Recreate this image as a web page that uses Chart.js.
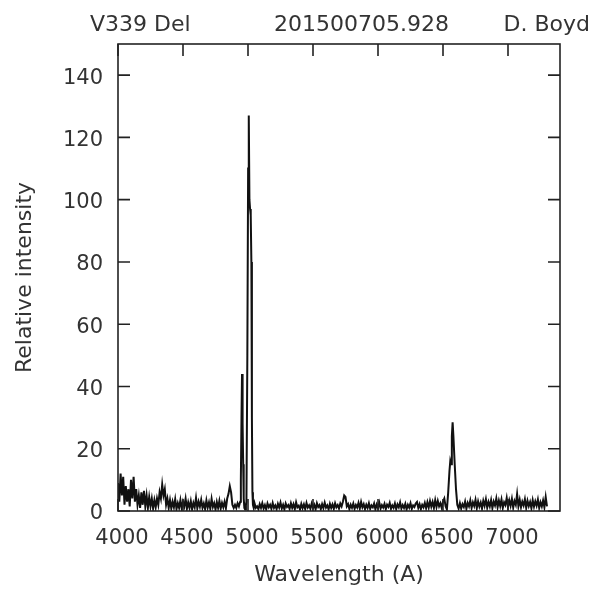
<!DOCTYPE html>
<html>
<head>
<meta charset="utf-8">
<script src="https://cdn.jsdelivr.net/npm/chart.js@4.4.1/dist/chart.umd.min.js"></script>
<style>
  html, body { margin: 0; padding: 0; background: #fff; }
  canvas { display: block; }
</style>
</head>
<body>
<canvas id="spectrum" width="608" height="592"></canvas>
<script>
// header line above the plot
var header = ['V339 Del', '201500705.928', 'D. Boyd'];
var xTicks = [4000, 4500, 5000, 5500, 6000, 6500, 7000];
var yTicks = [0, 20, 40, 60, 80, 100, 120, 140];

// blue continuum, 4000-4890 A
var blueWl = [
	4000, 4010, 4020, 4030, 4040, 4050, 4060, 4070, 4080, 4090,
	4100, 4110, 4120, 4130, 4140, 4150, 4160, 4170, 4180, 4190,
	4200, 4210, 4220, 4230, 4240, 4250, 4260, 4270, 4280, 4290,
	4300, 4310, 4320, 4330, 4340, 4350, 4360, 4370, 4380, 4390,
	4400, 4410, 4420, 4430, 4440, 4450, 4460, 4470, 4480, 4490,
	4500, 4510, 4520, 4530, 4540, 4550, 4560, 4570, 4580, 4590,
	4600, 4610, 4620, 4630, 4640, 4650, 4660, 4670, 4680, 4690,
	4700, 4710, 4720, 4730, 4740, 4750, 4760, 4770, 4780, 4790,
	4800, 4810, 4820, 4830, 4840, 4850, 4860, 4870, 4880, 4890
];
var blueFlux = [
	9, 3, 12, 5, 11, 2, 8, 3, 7, 1.5,
	10, 4, 11, 3, 7, 2, 5, 1, 6, 2,
	6.5, 1.5, 5, 1, 4.5, 1.5, 4, 0.8, 3.5, 1.2,
	4, 2, 6, 4, 8.5, 5, 7, 2, 4, 1,
	3.5, 0.8, 3, 1.2, 3.8, 0.6, 2.5, 1, 3.5, 0.8,
	3, 1.5, 4, 0.7, 2.8, 1, 3.2, 0.5, 2.6, 1.2,
	4.2, 0.9, 3, 1.4, 3.6, 1, 2.4, 0.6, 3.4, 1.1,
	2.8, 0.7, 3.9, 1.3, 2.5, 0.5, 2.9, 1, 3.3, 0.8,
	2.6, 1.2, 3, 0.9, 4, 5.5, 8, 6, 2, 1
];

// [OIII] 4959 / 5007 region
var oiiiWl = [
	4900, 4910, 4920, 4930, 4940, 4945, 4950, 4954, 4957, 4960,
	4963, 4967, 4972, 4978, 4984, 4988, 4995, 5001, 5006, 5011,
	5016, 5021, 5026, 5030, 5034, 5038, 5044, 5050, 5060
];
var oiiiFlux = [
	2, 1, 2.5, 1.5, 3, 10, 30, 44, 33, 28,
	15, 4, 1, 0.5, 2, 3, 50, 110, 127, 100,
	97, 95, 80, 30, 6, 2, 1, 2.5, 1
];

// continuum 5070-6470 A
var midWl = [
	5070, 5080, 5090,
	5100, 5110, 5120, 5130, 5140, 5150, 5160, 5170, 5180, 5190,
	5200, 5210, 5220, 5230, 5240, 5250, 5260, 5270, 5280, 5290,
	5300, 5310, 5320, 5330, 5340, 5350, 5360, 5370, 5380, 5390,
	5400, 5410, 5420, 5430, 5440, 5450, 5460, 5470, 5480, 5490,
	5500, 5510, 5520, 5530, 5540, 5550, 5560, 5570, 5580, 5590,
	5600, 5610, 5620, 5630, 5640, 5650, 5660, 5670, 5680, 5690,
	5700, 5710, 5720, 5730, 5740, 5750, 5760, 5770, 5780, 5790,
	5800, 5810, 5820, 5830, 5840, 5850, 5860, 5870, 5880, 5890,
	5900, 5910, 5920, 5930, 5940, 5950, 5960, 5970, 5980, 5990,
	6000, 6010, 6020, 6030, 6040, 6050, 6060, 6070, 6080, 6090,
	6100, 6110, 6120, 6130, 6140, 6150, 6160, 6170, 6180, 6190,
	6200, 6210, 6220, 6230, 6240, 6250, 6260, 6270, 6280, 6290,
	6300, 6310, 6320, 6330, 6340, 6350, 6360, 6370, 6380, 6390,
	6400, 6410, 6420, 6430, 6440, 6450, 6460, 6470
];
var midFlux = [
	1.5, 0.6, 2.2,
	1, 2.5, 0.8, 1.9, 0.5, 2.4, 1.2, 2, 0.7, 2.6,
	1, 1.8, 0.6, 2.3, 1.1, 2.7, 0.8, 2, 0.5, 2.4,
	1.3, 1.9, 0.7, 2.5, 1, 2.2, 0.6, 2.8, 1.2, 1.7,
	0.5, 2.3, 0.9, 2.1, 0.6, 2.6, 1.1, 1.8, 0.7, 2.4,
	1, 2, 0.5, 2.5, 1.3, 1.9, 0.6, 2.2, 0.9, 2.7,
	1.1, 1.8, 0.5, 2.3, 1, 2.1, 0.7, 2.5, 1.2, 1.9,
	0.8, 2.4, 1.5, 3, 5, 4.5, 1.5, 2.2, 0.6, 2,
	1, 2.4, 0.7, 1.9, 1.1, 2.6, 0.8, 2.9, 1.2, 2.2,
	0.6, 2, 1, 2.5, 0.7, 1.8, 1.2, 2.4, 0.5, 2.1,
	1, 2.7, 0.8, 1.9, 1.1, 2.3, 0.6, 2, 1.3, 2.6,
	0.7, 1.8, 1, 2.4, 0.6, 2.1, 1.2, 2.8, 0.8, 1.9,
	1, 2.3, 0.5, 2, 1.1, 2.5, 0.7, 1.8, 1.3, 2.4,
	2.9, 1, 2.2, 0.6, 2, 1.2, 2.6, 0.9, 2.8, 1.1,
	3.2, 1.4, 2.9, 1, 3.5, 1.3, 3.2, 1.5
];

// H-alpha region
var haWl = [
	6480, 6490, 6500, 6510, 6520, 6530, 6540, 6550, 6556, 6562,
	6568, 6574, 6580, 6590, 6600, 6610, 6620
];
var haFlux = [
	2.5, 1, 3, 4, 1.5, 0.5, 6, 13, 16, 15,
	24, 28.5, 24, 15, 7, 2, 0.8
];

// red continuum, 6630-7300 A
var redWl = [
	6630, 6640, 6650, 6660, 6670, 6680, 6690,
	6700, 6710, 6720, 6730, 6740, 6750, 6760, 6770, 6780, 6790,
	6800, 6810, 6820, 6830, 6840, 6850, 6860, 6870, 6880, 6890,
	6900, 6910, 6920, 6930, 6940, 6950, 6960, 6970, 6980, 6990,
	7000, 7010, 7020, 7030, 7040, 7050, 7060, 7070, 7080, 7090,
	7100, 7110, 7120, 7130, 7140, 7150, 7160, 7170, 7180, 7190,
	7200, 7210, 7220, 7230, 7240, 7250, 7260, 7270, 7280, 7290,
	7300
];
var redFlux = [
	2.5, 0.8, 2.2, 1.3, 3, 0.7, 2.6,
	1.5, 3.4, 1, 2.8, 1.6, 3.6, 0.9, 3.1, 1.4, 2.7,
	0.8, 3.3, 1.7, 3.8, 1.1, 2.9, 1.5, 3.5, 0.9, 3,
	1.8, 4, 1.2, 3.3, 1.6, 3.7, 1, 2.8, 1.9, 4.2,
	1.3, 3.4, 1.7, 3.9, 1.1, 3.2, 2, 5.5, 1.5, 3.6,
	1.2, 3, 1.8, 3.8, 1, 3.3, 1.6, 2.9, 0.9, 3.5,
	1.4, 3.1, 1.7, 3.7, 1, 2.8, 1.5, 3.4, 1.2, 4.5,
	1.5
];

var wavelength = blueWl.concat(oiiiWl, midWl, haWl, redWl);
var intensity = blueFlux.concat(oiiiFlux, midFlux, haFlux, redFlux);
var points = wavelength.map((w, i) => ({ x: w, y: intensity[i] }));

var ink = '#333';
Chart.defaults.font.family = '"DejaVu Sans", Verdana, sans-serif';
Chart.defaults.color = ink;

// box around the plot with inward ticks on all four sides, plus header
var frame = {
	id: 'frame',
	afterDraw(chart) {
		var ctx = chart.ctx, a = chart.chartArea;
		var x = chart.scales.x, y = chart.scales.y;
		var len = 12;
		ctx.save();
		ctx.strokeStyle = '#222';
		ctx.lineWidth = 1.6;
		ctx.strokeRect(a.left, a.top, a.right - a.left, a.bottom - a.top);
		ctx.beginPath();
		x.ticks.forEach(t => {
			var px = x.getPixelForValue(t.value);
			ctx.moveTo(px, a.bottom); ctx.lineTo(px, a.bottom - len);
			ctx.moveTo(px, a.top); ctx.lineTo(px, a.top + len);
		});
		y.ticks.forEach(t => {
			var py = y.getPixelForValue(t.value);
			ctx.moveTo(a.left, py); ctx.lineTo(a.left + len, py);
			ctx.moveTo(a.right, py); ctx.lineTo(a.right - len, py);
		});
		ctx.stroke();

		ctx.fillStyle = ink;
		ctx.font = '22px "DejaVu Sans", Verdana, sans-serif';
		ctx.textBaseline = 'alphabetic';
		ctx.textAlign = 'left';
		ctx.fillText(header[0], 90, 31);
		ctx.fillText(header[1], 274, 31);
		ctx.textAlign = 'right';
		ctx.fillText(header[2], 590, 31);
		ctx.restore();
	}
};

var chart = new Chart(document.getElementById('spectrum'), {
	type: 'line',
	data: {
		datasets: [{
			data: points,
			borderColor: '#111',
			borderWidth: 2,
			pointRadius: 0,
			tension: 0,
			fill: false
		}]
	},
	options: {
		responsive: false,
		animation: false,
		devicePixelRatio: 1,
		layout: { padding: { top: 44, right: 48, bottom: 0, left: 0 } },
		plugins: { legend: { display: false }, tooltip: { enabled: false } },
		scales: {
			x: {
				type: 'linear',
				min: 4000,
				max: 7400,
				grid: { display: false, drawTicks: false },
				border: { display: false },
				afterBuildTicks(scale) { scale.ticks = xTicks.map(v => ({ value: v })); },
				ticks: { font: { size: 21 }, padding: 15, labelOffset: 4, maxRotation: 0, autoSkip: false, callback: v => String(v) },
				title: { display: true, text: 'Wavelength (A)', font: { size: 22 }, padding: { top: 0, bottom: 4 } },
				afterFit(scale) { scale.height = 81; }
			},
			y: {
				min: 0,
				max: 150,
				grid: { display: false, drawTicks: false },
				border: { display: false },
				afterBuildTicks(scale) { scale.ticks = yTicks.map(v => ({ value: v })); },
				ticks: { font: { size: 21 }, padding: 15, labelOffset: 3, autoSkip: false, callback: v => String(v) },
				title: { display: true, text: 'Relative intensity', font: { size: 22 }, padding: { top: 12, bottom: 0 } },
				afterFit(scale) { scale.width = 118; }
			}
		}
	},
	plugins: [frame]
});
</script>
</body>
</html>
